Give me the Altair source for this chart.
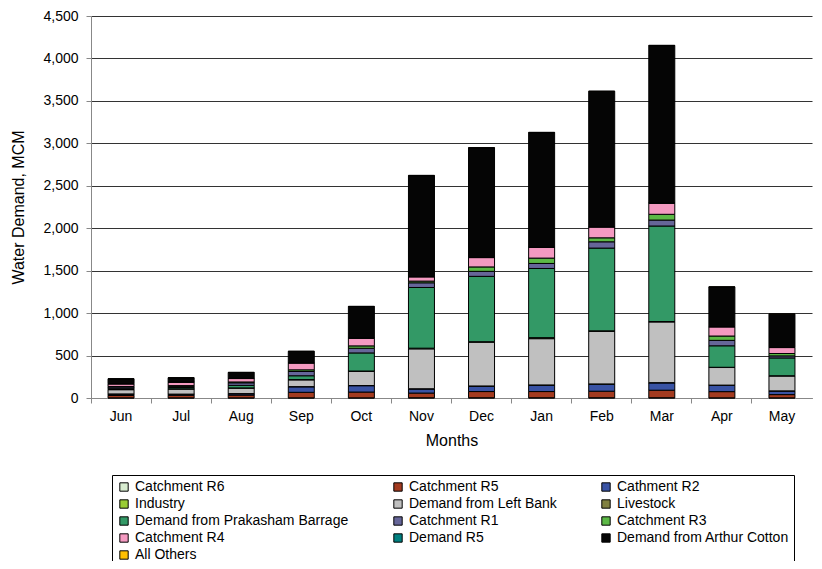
import altair as alt
import pandas as pd

months = ["Jun", "Jul", "Aug", "Sep", "Oct", "Nov", "Dec", "Jan", "Feb", "Mar", "Apr", "May"]

series_names = [
    "Catchment R6", "Catchment R5", "Cathment R2",
    "Industry", "Demand from Left Bank", "Livestock",
    "Demand from Prakasham Barrage", "Catchment R1", "Catchment R3",
    "Catchment R4", "Demand R5", "Demand from Arthur Cotton",
    "All Others",
]

series_colors = [
    "#d8ecd0", "#a33b20", "#3953a4",
    "#99cc33", "#c0c0c0", "#808040",
    "#339966", "#666699", "#5cb946",
    "#f49ac1", "#008080", "#050505",
    "#ffc000",
]

catchment_r6 = [2, 2, 2, 2, 2, 3, 3, 3, 3, 3, 2, 2]
catchment_r5 = [28, 30, 32, 65, 68, 55, 73, 73, 77, 89, 73, 38]
catchment_r2 = [16, 12, 15, 65, 75, 48, 63, 75, 83, 86, 75, 42]
industry = [2, 2, 3, 2, 2, 3, 3, 3, 3, 3, 2, 2]
left_bank = [50, 60, 65, 80, 168, 470, 516, 545, 620, 715, 207, 176]
livestock = [2, 2, 2, 3, 3, 8, 5, 12, 5, 5, 3, 2]
prakasham = [15, 15, 30, 45, 213, 715, 770, 815, 975, 1125, 253, 210]
catchment_r1 = [15, 15, 30, 50, 55, 55, 59, 59, 74, 70, 64, 24]
catchment_r3 = [6, 8, 10, 20, 28, 20, 52, 63, 47, 68, 51, 28]
catchment_r4 = [30, 40, 40, 80, 90, 50, 110, 126, 127, 130, 108, 70]
demand_r5 = [2, 2, 2, 2, 2, 3, 3, 3, 3, 3, 2, 2]
arthur_cotton = [58, 50, 70, 135, 372, 1190, 1290, 1350, 1595, 1855, 468, 392]
all_others = [1, 1, 1, 2, 2, 3, 3, 3, 3, 3, 2, 2]

series_values = [
    catchment_r6, catchment_r5, catchment_r2,
    industry, left_bank, livestock,
    prakasham, catchment_r1, catchment_r3,
    catchment_r4, demand_r5, arthur_cotton,
    all_others,
]

rows = []
for si, (name, vals) in enumerate(zip(series_names, series_values)):
    for m, v in zip(months, vals):
        rows.append({"Month": m, "Series": name, "Value": v, "Order": si})
df = pd.DataFrame(rows)

FONT = "Liberation Sans"

chart = (
    alt.Chart(df)
    .mark_bar(size=26, stroke="black", strokeWidth=1)
    .encode(
        x=alt.X(
            "Month:N",
            sort=months,
            title="Months",
            scale=alt.Scale(paddingInner=0, paddingOuter=0),
            axis=alt.Axis(
                labelAngle=0,
                bandPosition=0,
                labelFontSize=14,
                labelColor="black",
                labelPadding=6,
                tickSize=5,
                tickColor="#888888",
                domainColor="#888888",
                titleFontSize=16,
                titleFontWeight="normal",
                titleColor="black",
                titlePadding=9,
            ),
        ),
        y=alt.Y(
            "Value:Q",
            stack="zero",
            title="Water Demand, MCM",
            scale=alt.Scale(domain=[0, 4500], nice=False),
            axis=alt.Axis(
                values=list(range(0, 4501, 500)),
                format=",.0f",
                grid=True,
                gridColor="#333333",
                gridWidth=1,
                tickSize=5,
                tickColor="#888888",
                domainColor="#888888",
                labelFontSize=14,
                labelColor="black",
                labelPadding=8,
                titleFontSize=16,
                titleFontWeight="normal",
                titleColor="black",
                titlePadding=16,
            ),
        ),
        color=alt.Color(
            "Series:N",
            title=None,
            scale=alt.Scale(domain=series_names, range=series_colors),
            legend=alt.Legend(
                orient="none",
                legendX=21,
                legendY=459,
                direction="horizontal",
                columns=3,
                columnPadding=42,
                rowPadding=3,
                symbolType="square",
                symbolSize=70,
                symbolStrokeColor="black",
                symbolStrokeWidth=1,
                labelFontSize=14,
                labelColor="black",
                labelOffset=4,
                labelLimit=400,
                strokeColor="black",
                padding=5,
            ),
        ),
        order=alt.Order("Order:Q", sort="ascending"),
    )
    .properties(
        width=721,
        height=382,
        padding={"left": 83, "top": 8, "right": 2, "bottom": 163},
        autosize=alt.AutoSizeParams(type="none"),
    )
    .configure(font=FONT)
    .configure_view(stroke=None)
)

chart.save("out.html", embed_options={"renderer": "svg", "actions": False})
